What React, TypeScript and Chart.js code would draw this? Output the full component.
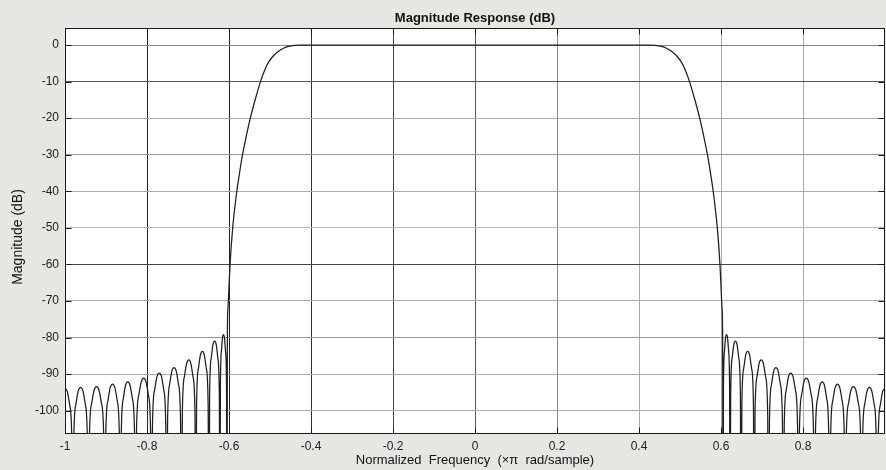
import React, { useEffect, useRef } from 'react';
import { Chart, registerables } from 'chart.js';

Chart.register(...registerables);

// ---- axis ticks ----
const xTickValues = [-1, -0.8, -0.6, -0.4, -0.2, 0, 0.2, 0.4, 0.6, 0.8];
const xTickLabels = ['-1', '-0.8', '-0.6', '-0.4', '-0.2', '0', '0.2', '0.4', '0.6', '0.8'];
const yTickValues = [0, -10, -20, -30, -40, -50, -60, -70, -80, -90, -100];
const yTickLabels = ['0', '-10', '-20', '-30', '-40', '-50', '-60', '-70', '-80', '-90', '-100'];

// ---- magnitude response (normalized frequency x pi rad/sample, dB) ----
const leftStopFreq = [
  -1.0, -0.9943, -0.9886, -0.9833, -0.981,
  -0.9787, -0.9734, -0.9677, -0.962, -0.9563, -0.9506, -0.9453, -0.943,
  -0.9406, -0.935, -0.929, -0.923, -0.917, -0.911, -0.9054, -0.903,
  -0.9007, -0.8954, -0.8897, -0.884, -0.8783, -0.8726, -0.8673, -0.865,
  -0.8628, -0.8578, -0.8524, -0.847, -0.8413, -0.8356, -0.8303, -0.828,
  -0.8256, -0.82, -0.814, -0.808, -0.8023, -0.7966, -0.7913, -0.789,
  -0.7867, -0.7814, -0.7757, -0.77, -0.7646, -0.7592, -0.7542, -0.752,
  -0.7498, -0.7448, -0.7394, -0.734, -0.7286, -0.7232, -0.7182, -0.716,
  -0.7138, -0.7088, -0.7034, -0.698, -0.6929, -0.6878, -0.683, -0.681,
  -0.6791, -0.6746, -0.6698, -0.665, -0.6602, -0.6554, -0.6509, -0.649,
  -0.6473, -0.6434, -0.6392, -0.635, -0.6311, -0.6272, -0.6236, -0.622,
  -0.621, -0.6186, -0.6161, -0.6135, -0.611, -0.6084, -0.606, -0.605,
];
const leftStopDb = [
  -93.8, -94.8, -98.4, -108.3, -150,
  -108.1, -98.2, -94.6, -93.6, -94.6, -98.2, -108.1, -150,
  -107.9, -98.0, -94.4, -93.4, -94.4, -98.0, -107.9, -150,
  -107.2, -97.3, -93.7, -92.7, -93.7, -97.3, -107.2, -150,
  -106.6, -96.7, -93.1, -92.1, -93.1, -96.7, -106.6, -150,
  -105.6, -95.7, -92.1, -91.1, -92.1, -95.7, -105.6, -150,
  -104.2, -94.3, -90.7, -89.7, -90.7, -94.3, -104.2, -150,
  -102.7, -92.8, -89.2, -88.2, -89.2, -92.8, -102.7, -150,
  -100.6, -90.7, -87.1, -86.1, -87.1, -90.7, -100.6, -150,
  -98.3, -88.4, -84.8, -83.8, -84.8, -88.4, -98.3, -150,
  -95.5, -85.6, -82.0, -81.0, -82.0, -85.6, -95.5, -150,
  -93.7, -83.8, -80.2, -79.2, -80.2, -83.8, -93.7, -150,
];
const leftTransFreq = [
  -0.604, -0.6025, -0.6, -0.5975, -0.591, -0.581, -0.575, -0.567, -0.558, -0.548,
  -0.535, -0.522, -0.512, -0.503, -0.492, -0.48, -0.467, -0.455, -0.44, -0.42, -0.4,
];
const leftTransDb = [
  -80, -72, -66, -60, -50, -40, -35.5, -30, -25, -20,
  -14.5, -9.6, -6.6, -4.6, -3.0, -1.8, -0.9, -0.4, -0.12, -0.03, 0,
];
const passFreq = [-0.2, 0, 0.2];
const passDb = [0, 0, 0];
const rightTransFreq = [
  0.4, 0.42, 0.44, 0.455, 0.467, 0.48, 0.492, 0.503, 0.512, 0.522,
  0.535, 0.548, 0.558, 0.567, 0.575, 0.581, 0.591, 0.5975, 0.6, 0.6025, 0.604,
];
const rightTransDb = [
  0, -0.03, -0.12, -0.4, -0.9, -1.8, -3.0, -4.6, -6.6, -9.6,
  -14.5, -20, -25, -30, -35.5, -40, -50, -60, -66, -72, -80,
];
const rightStopFreq = [
  0.605, 0.606, 0.6084, 0.611, 0.6135, 0.6161, 0.6186, 0.621,
  0.622, 0.6236, 0.6272, 0.6311, 0.635, 0.6392, 0.6434, 0.6473,
  0.649, 0.6509, 0.6554, 0.6602, 0.665, 0.6698, 0.6746, 0.6791,
  0.681, 0.683, 0.6878, 0.6929, 0.698, 0.7034, 0.7088, 0.7138,
  0.716, 0.7182, 0.7232, 0.7286, 0.734, 0.7394, 0.7448, 0.7498,
  0.752, 0.7542, 0.7592, 0.7646, 0.77, 0.7757, 0.7814, 0.7867,
  0.789, 0.7913, 0.7966, 0.8023, 0.808, 0.814, 0.82, 0.8256,
  0.828, 0.8303, 0.8356, 0.8413, 0.847, 0.8524, 0.8578, 0.8628,
  0.865, 0.8673, 0.8726, 0.8783, 0.884, 0.8897, 0.8954, 0.9007,
  0.903, 0.9054, 0.911, 0.917, 0.923, 0.929, 0.935, 0.9406,
  0.943, 0.9453, 0.9506, 0.9563, 0.962, 0.9677, 0.9734, 0.9787,
  0.981, 0.9833, 0.9886, 0.9943, 1.0,
];
const rightStopDb = [
  -150, -93.7, -83.8, -80.2, -79.2, -80.2, -83.8, -93.7,
  -150, -95.5, -85.6, -82.0, -81.0, -82.0, -85.6, -95.5,
  -150, -98.3, -88.4, -84.8, -83.8, -84.8, -88.4, -98.3,
  -150, -100.6, -90.7, -87.1, -86.1, -87.1, -90.7, -100.6,
  -150, -102.7, -92.8, -89.2, -88.2, -89.2, -92.8, -102.7,
  -150, -104.2, -94.3, -90.7, -89.7, -90.7, -94.3, -104.2,
  -150, -105.6, -95.7, -92.1, -91.1, -92.1, -95.7, -105.6,
  -150, -106.6, -96.7, -93.1, -92.1, -93.1, -96.7, -106.6,
  -150, -107.2, -97.3, -93.7, -92.7, -93.7, -97.3, -107.2,
  -150, -107.9, -98.0, -94.4, -93.4, -94.4, -98.0, -107.9,
  -150, -108.1, -98.2, -94.6, -93.6, -94.6, -98.2, -108.1,
  -150, -108.3, -98.4, -94.8, -93.8,
];

const TITLE = 'Magnitude Response (dB)';
const X_TITLE = 'Normalized  Frequency  (\u00d7\u03c0  rad/sample)';
const Y_TITLE = 'Magnitude (dB)';

const xGridColors = ['#222', '#222', '#222', '#333', '#444', '#555', '#888', '#aaa', '#aaa', '#aaa'];
const yGridColors = ['#888', '#555', '#aaa', '#999', '#aaa', '#bbb', '#444', '#aaa', '#999', '#aaa', '#aaa'];

const FONT = '"Liberation Sans", Arial, Helvetica, sans-serif';

function pairs(xs: number[], ys: number[]) {
  return xs.map((x, i) => ({ x, y: ys[i] }));
}

const framePlugin = {
  id: 'matlabFrame',
  beforeDraw(chart: any) {
    const { ctx, chartArea: a } = chart;
    ctx.save();
    ctx.fillStyle = '#ffffff';
    ctx.fillRect(a.left, a.top, a.right - a.left, a.bottom - a.top);
    ctx.restore();
  },
  afterDraw(chart: any) {
    const { ctx, chartArea: a, scales } = chart;
    ctx.save();
    ctx.strokeStyle = '#1a1a1a';
    ctx.lineWidth = 1;
    const L = a.left + 0.5, T = a.top + 0.5, R = a.right - 0.5, B = a.bottom - 0.5;
    ctx.strokeRect(L, T, R - L, B - T);
    const tl = 6;
    ctx.beginPath();
    for (const v of xTickValues) {
      const px = Math.round(scales.x.getPixelForValue(v)) + 0.5;
      ctx.moveTo(px, B); ctx.lineTo(px, B - tl);
      ctx.moveTo(px, T); ctx.lineTo(px, T + tl);
    }
    for (const v of yTickValues) {
      const py = Math.round(scales.y.getPixelForValue(v)) + 0.5;
      ctx.moveTo(L, py); ctx.lineTo(L + tl, py);
      ctx.moveTo(R, py); ctx.lineTo(R - tl, py);
    }
    ctx.stroke();

    ctx.fillStyle = '#111';
    ctx.textAlign = 'center';
    ctx.textBaseline = 'middle';
    const cx = (a.left + a.right) / 2;
    ctx.font = `bold 13px ${FONT}`;
    ctx.fillText(TITLE, cx, 18.5);
    ctx.font = `13px ${FONT}`;
    ctx.fillText(X_TITLE, cx, 460.5);
    ctx.font = `14px ${FONT}`;
    ctx.translate(18, 237);
    ctx.rotate(-Math.PI / 2);
    ctx.fillText(Y_TITLE, 0, 0);
    ctx.restore();
  },
};

export default function App() {
  const canvasRef = useRef<HTMLCanvasElement | null>(null);

  useEffect(() => {
    const canvas = canvasRef.current;
    if (!canvas) return;
    const data = [
      ...pairs(leftStopFreq, leftStopDb),
      ...pairs(leftTransFreq, leftTransDb),
      ...pairs(passFreq, passDb),
      ...pairs(rightTransFreq, rightTransDb),
      ...pairs(rightStopFreq, rightStopDb),
    ];
    const chart = new Chart(canvas, {
      type: 'line',
      data: {
        datasets: [
          {
            data,
            borderColor: '#1e1e1e',
            borderWidth: 1.25,
            pointRadius: 0,
            fill: false,
            cubicInterpolationMode: 'monotone',
            clip: 0,
          } as any,
        ],
      },
      options: {
        animation: false,
        responsive: false,
        devicePixelRatio: 1,
        parsing: false,
        layout: { padding: { top: 28, right: 1, bottom: 0, left: 0 } },
        plugins: {
          legend: { display: false },
          title: { display: false },
          tooltip: { enabled: false },
        },
        scales: {
          x: {
            type: 'linear',
            min: -1,
            max: 1,
            afterFit: (s: any) => { s.height = 36; },
            afterBuildTicks: (s: any) => { s.ticks = xTickValues.map((v) => ({ value: v })); },
            ticks: {
              callback: (_v: any, i: number) => xTickLabels[i],
              font: { family: FONT, size: 12 },
              color: '#222',
              padding: 5,
              maxRotation: 0,
              autoSkip: false,
            },
            grid: {
              color: (c: any) => xGridColors[c.index] || '#aaa',
              drawTicks: false,
              lineWidth: 1,
            },
            border: { display: false },
          },
          y: {
            type: 'linear',
            min: -106.37,
            max: 4.65,
            afterFit: (s: any) => { s.width = 65; },
            afterBuildTicks: (s: any) => { s.ticks = yTickValues.map((v) => ({ value: v })); },
            ticks: {
              callback: (_v: any, i: number) => yTickLabels[i],
              font: { family: FONT, size: 12 },
              color: '#222',
              padding: 6,
              autoSkip: false,
            },
            grid: {
              color: (c: any) => yGridColors[c.index] || '#aaa',
              drawTicks: false,
              lineWidth: 1,
            },
            border: { display: false },
          },
        },
      } as any,
      plugins: [framePlugin],
    });
    return () => chart.destroy();
  }, []);

  return (
    <div
      style={{
        position: 'absolute',
        left: 0,
        top: 0,
        width: 886,
        height: 470,
        background: '#e5e7e3',
      }}
    >
      <canvas ref={canvasRef} width={886} height={470} style={{ display: 'block' }} />
    </div>
  );
}
